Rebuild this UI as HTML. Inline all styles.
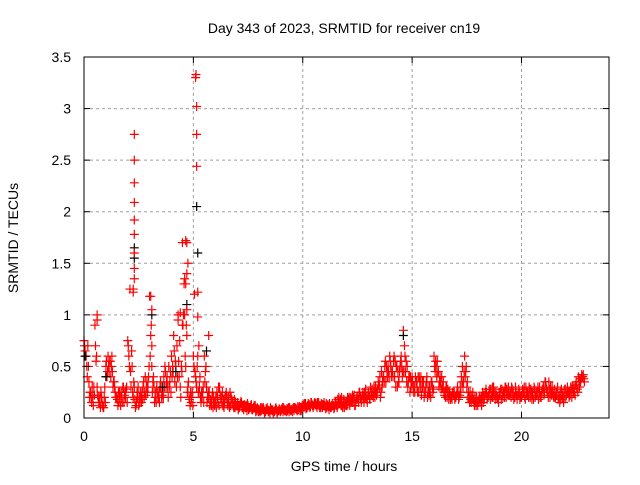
<!DOCTYPE html>
<html><head><meta charset="utf-8"><style>
body{margin:0;background:#fff}
svg text{font-family:"Liberation Sans",sans-serif;font-size:14px;fill:#000}
</style></head><body>
<svg id="chart" width="640" height="480" viewBox="0 0 640 480" xmlns="http://www.w3.org/2000/svg">
<rect width="640" height="480" fill="#fff"/>
<g id="grid"></g>
<g id="marks"></g>
<rect x="84" y="57" width="525" height="361" fill="none" stroke="#000" stroke-width="1"/>
<g id="axes"></g>
<text x="344" y="33" text-anchor="middle">Day 343 of 2023, SRMTID for receiver cn19</text>
<text x="344" y="471" text-anchor="middle">GPS time / hours</text>
<text x="0" y="0" text-anchor="middle" transform="translate(18,238) rotate(-90)">SRMTID / TECUs</text>
</svg>
<script>
const xTicks=[0,5,10,15,20];
const yTicks=[0,0.5,1,1.5,2,2.5,3,3.5];
const yTickLabels=["0","0.5","1","1.5","2","2.5","3","3.5"];
const redA=[0.75,0.6,0.5,0.25,0.2,0.9,0.3,0.15,0.2,0.1,0.5,0.6,0.55,0.45,0.3,0.2,0.15,0.25,0.3,0.2,0.75,1.25,0.5,0.3,0.15,0.12,0.2,0.3,0.4,0.25,1.18,0.5,0.3,0.15,0.2,0.35,0.25,0.5,0.4,0.3,0.6,0.8,0.5,1.0,0.3,1.7,1.35,0.8,0.2,0.15,0.6,0.4,0.6,0.4,0.2,0.6,0.3,0.2,0.15,0.1,
0.15,0.2,0.3,0.15,0.1,0.25,0.2,0.12,0.15,0.1,0.12,0.1,0.15,0.08,0.1,0.12,0.1,0.08,0.1,0.07,0.08,0.07,0.1,0.06,0.08,0.05,0.07,0.06,0.08,0.07,0.07,0.06,0.08,0.07,0.1,0.08,0.07,0.09,0.08,0.1,
0.1,0.12,0.1,0.13,0.15,0.12,0.14,0.13,0.12,0.1,0.12,0.1,0.08,0.1,0.12,0.15,0.18,0.15,0.12,0.1,0.15,0.18,0.2,0.15,0.12,0.2,0.25,0.18,0.15,0.2,0.25,0.3,0.22,0.2,0.25,0.3,0.45,0.4,0.35,0.5,
0.55,0.45,0.4,0.5,0.35,0.6,0.85,0.45,0.3,0.25,0.4,0.3,0.35,0.25,0.4,0.3,0.25,0.2,0.3,0.35,0.6,0.5,0.45,0.35,0.3,0.25,0.2,0.25,0.2,0.22,0.2,0.25,0.3,0.5,0.6,0.3,0.2,0.15,0.18,0.15,
0.12,0.15,0.2,0.18,0.25,0.22,0.28,0.2,0.18,0.2,0.22,0.28,0.25,0.2,0.3,0.25,0.22,0.2,0.18,0.25,0.2,0.25,0.3,0.22,0.2,0.25,0.28,0.22,0.25,0.2,0.3,0.35,0.25,0.2,0.3,0.28,0.22,0.2,0.18,0.25,0.28,0.3,0.25,0.2,0.3,0.35,0.4,0.35,0.4];
const redB=[0.65,0.4,0.2,0.15,0.3,0.55,0.2,0.1,0.12,0.3,0.4,0.45,0.5,0.35,0.2,0.12,0.2,0.15,0.22,0.3,0.6,0.3,0.2,0.1,0.2,0.15,0.25,0.2,0.3,0.4,0.8,0.35,0.2,0.25,0.15,0.2,0.4,0.3,0.2,0.45,0.5,0.35,0.7,0.4,0.5,1.0,0.5,0.3,0.12,0.25,1.2,0.3,0.25,0.15,0.3,0.45,0.2,0.12,0.2,0.15,
0.1,0.3,0.18,0.12,0.2,0.15,0.1,0.18,0.1,0.12,0.08,0.14,0.1,0.12,0.07,0.09,0.13,0.1,0.06,0.09,0.06,0.09,0.05,0.08,0.07,0.08,0.05,0.09,0.06,0.08,0.09,0.08,0.06,0.1,0.07,0.09,0.1,0.07,0.11,0.09,
0.13,0.09,0.14,0.11,0.12,0.15,0.1,0.12,0.14,0.12,0.09,0.13,0.11,0.14,0.1,0.12,0.2,0.12,0.15,0.13,0.2,0.12,0.15,0.22,0.18,0.15,0.2,0.25,0.2,0.15,0.2,0.22,0.3,0.25,0.35,0.2,0.35,0.5,0.45,0.4,
0.4,0.55,0.3,0.45,0.5,0.4,0.7,0.35,0.4,0.3,0.3,0.4,0.25,0.35,0.3,0.2,0.35,0.25,0.2,0.25,0.45,0.55,0.35,0.4,0.25,0.3,0.25,0.18,0.25,0.18,0.25,0.2,0.4,0.35,0.45,0.2,0.25,0.18,0.12,0.2,
0.18,0.2,0.15,0.25,0.2,0.28,0.2,0.25,0.22,0.15,0.28,0.2,0.3,0.25,0.22,0.3,0.18,0.25,0.22,0.2,0.28,0.2,0.22,0.3,0.25,0.18,0.22,0.3,0.2,0.28,0.25,0.28,0.35,0.25,0.22,0.2,0.3,0.15,0.22,0.2,0.22,0.25,0.3,0.28,0.22,0.28,0.3,0.42,0.38];
const redC=[0.7,0.5,0.35,0.2,0.12,0.7,0.22,0.2,0.15,0.2,0.55,0.5,0.4,0.3,0.25,0.18,0.25,0.2,0.15,0.28,0.7,0.45,0.25,0.18,0.25,0.2,0.15,0.35,0.22,0.3,0.6,0.25,0.15,0.3,0.25,0.3,0.2,0.45,0.3,0.35,0.4,0.65,0.3,0.55,0.2,0.9,0.6,0.25,0.18,0.2,0.5,0.35,0.25,0.2,0.25,0.35,0.15,0.25,0.12,0.2,
0.2,0.15,0.22,0.25,0.15,0.2,0.15,0.2,0.12,0.15,0.15,0.12,0.1,0.13,0.12,0.08,0.12,0.09,0.12,0.1,0.07,0.1,0.08,0.09,0.06,0.1,0.08,0.07,0.05,0.09,0.08,0.1,0.07,0.09,0.08,0.06,0.1,0.08,0.1,0.07,
0.12,0.14,0.12,0.1,0.13,0.14,0.12,0.15,0.1,0.13,0.11,0.12,0.14,0.12,0.09,0.13,0.15,0.18,0.1,0.15,0.12,0.2,0.17,0.2,0.15,0.18,0.2,0.22,0.25,0.18,0.22,0.25,0.2,0.3,0.28,0.4,0.3,0.35,0.5,0.45,
0.5,0.4,0.55,0.3,0.45,0.5,0.45,0.55,0.35,0.4,0.35,0.25,0.3,0.4,0.22,0.35,0.3,0.3,0.25,0.3,0.5,0.4,0.3,0.28,0.35,0.2,0.28,0.22,0.18,0.25,0.22,0.18,0.25,0.3,0.4,0.35,0.15,0.22,0.15,0.12,
0.15,0.18,0.25,0.22,0.18,0.25,0.22,0.3,0.25,0.18,0.25,0.22,0.2,0.28,0.22,0.2,0.25,0.3,0.22,0.18,0.22,0.3,0.25,0.2,0.28,0.22,0.2,0.25,0.3,0.25,0.22,0.3,0.2,0.3,0.25,0.2,0.25,0.22,0.28,0.15,0.2,0.25,0.22,0.3,0.25,0.3,0.35,0.38,0.42];
const redD=[0.6,0.7,0.25,0.3,0.22,0.6,0.15,0.25,0.1,0.15,0.45,0.55,0.6,0.35,0.2,0.25,0.12,0.3,0.25,0.15,0.5,0.65,0.35,0.12,0.3,0.25,0.18,0.25,0.35,0.5,0.9,0.4,0.25,0.2,0.3,0.22,0.3,0.35,0.5,0.25,0.45,0.55,0.4,0.75,0.45,1.3,0.9,0.35,0.25,0.12,0.45,0.5,0.3,0.25,0.15,0.5,0.25,0.18,0.25,0.12,
0.25,0.12,0.2,0.18,0.22,0.12,0.25,0.15,0.18,0.12,0.1,0.16,0.12,0.1,0.14,0.1,0.08,0.12,0.09,0.06,0.1,0.08,0.06,0.1,0.07,0.08,0.06,0.1,0.07,0.06,0.1,0.07,0.09,0.06,0.08,0.1,0.09,0.11,0.07,0.12,
0.14,0.1,0.12,0.15,0.1,0.13,0.15,0.1,0.13,0.15,0.14,0.11,0.1,0.12,0.15,0.1,0.14,0.2,0.18,0.12,0.18,0.15,0.22,0.12,0.2,0.25,0.15,0.2,0.28,0.22,0.18,0.28,0.25,0.22,0.32,0.25,0.4,0.55,0.4,0.6,
0.45,0.6,0.5,0.35,0.55,0.45,0.6,0.5,0.4,0.35,0.25,0.35,0.4,0.3,0.35,0.25,0.4,0.22,0.35,0.28,0.55,0.45,0.4,0.3,0.22,0.3,0.18,0.22,0.25,0.2,0.3,0.22,0.35,0.45,0.5,0.25,0.18,0.25,0.2,0.15,
0.2,0.12,0.22,0.28,0.2,0.18,0.3,0.22,0.2,0.25,0.18,0.25,0.3,0.22,0.25,0.28,0.2,0.22,0.28,0.22,0.25,0.18,0.25,0.28,0.18,0.3,0.25,0.18,0.22,0.28,0.35,0.25,0.28,0.22,0.2,0.25,0.18,0.25,0.2,0.28,0.25,0.2,0.28,0.25,0.32,0.25,0.38,0.4,0.35];
const spikeT=[2.3,2.3,2.3,2.3,2.3,2.3,2.3,2.3,2.3,2.25,2.25,4.65,4.7,4.75,4.7,4.65,4.7,5.12,5.1,5.15,5.15,5.15,5.2,5.2,5.25,3.05,3.1,4.3,4.4,5.7,0.6,0.6,3.1,4.5,4.6];
const spikeV=[2.75,2.5,2.28,2.09,1.92,1.78,1.6,1.45,1.35,1.25,1.22,1.72,1.7,1.5,1.4,1.3,1.05,3.33,3.3,3.02,2.75,2.44,1.22,0.98,0.7,1.18,1.05,0.95,1.02,0.8,1.0,0.95,0.7,0.9,1.0];
const blackT=[2.3,2.3,5.15,5.2,3.1,4.7,0.05,1.0,4.2,5.6,14.6,3.6];
const blackV=[1.65,1.55,2.05,1.6,1.0,1.1,0.6,0.4,0.45,0.65,0.8,0.3];
const X0=84,X1=609,Y0=418,Y1=57,XMAX=24,YMAX=3.5;
const xs=t=>X0+t/XMAX*(X1-X0);
const ys=v=>Y0-v/YMAX*(Y0-Y1);
const NS="http://www.w3.org/2000/svg";
function mk(tag,attrs,parent){const e=document.createElementNS(NS,tag);for(const k in attrs)e.setAttribute(k,attrs[k]);parent.appendChild(e);return e;}
const grid=document.getElementById('grid'),axes=document.getElementById('axes'),marks=document.getElementById('marks');
xTicks.forEach(t=>{const x=xs(t);
 if(t>0){const g=mk('line',{x1:x,x2:x,y1:Y1,y2:Y0,stroke:'#a0a0a0','stroke-dasharray':'3,3'},grid);
 
 }
 mk('line',{x1:x,x2:x,y1:Y0,y2:Y0-6,stroke:'#000'},axes);mk('line',{x1:x,x2:x,y1:Y1,y2:Y1+6,stroke:'#000'},axes);
 const l=mk('text',{x:x,y:Y0+23,'text-anchor':'middle'},axes);l.textContent=t;
 
 });
yTicks.forEach((v,i)=>{const y=ys(v);
 if(v>0&&v<YMAX){const g=mk('line',{x1:X0,x2:X1,y1:y,y2:y,stroke:'#a0a0a0','stroke-dasharray':'3,3'},grid);
 
 }
 mk('line',{x1:X0,x2:X0+6,y1:y,y2:y,stroke:'#000'},axes);mk('line',{x1:X1,x2:X1-6,y1:y,y2:y,stroke:'#000'},axes);
 const l=mk('text',{x:X0-13,y:y+5,'text-anchor':'end'},axes);l.textContent=yTickLabels[i];
 
 });
function plus(t,v,col){const x=xs(t),y=ys(v);
 const p=mk('path',{d:`M${x-4.5},${y}h9M${x},${y-4.5}v9`,stroke:col,'stroke-width':1.2,fill:'none'},marks);return p;}
[[redA,0],[redC,0.025],[redB,0.05],[redD,0.075]].forEach(([arr,off])=>{
 arr.forEach((v,i)=>{const p=plus(i*0.1+off,v,'#ff0000');
 
 });});
blackT.forEach((t,i)=>{const p=plus(t,blackV[i],'#000');
 
 });
spikeT.forEach((t,i)=>{const p=plus(t,spikeV[i],'#ff0000');
 
 });
</script>
</body></html>
